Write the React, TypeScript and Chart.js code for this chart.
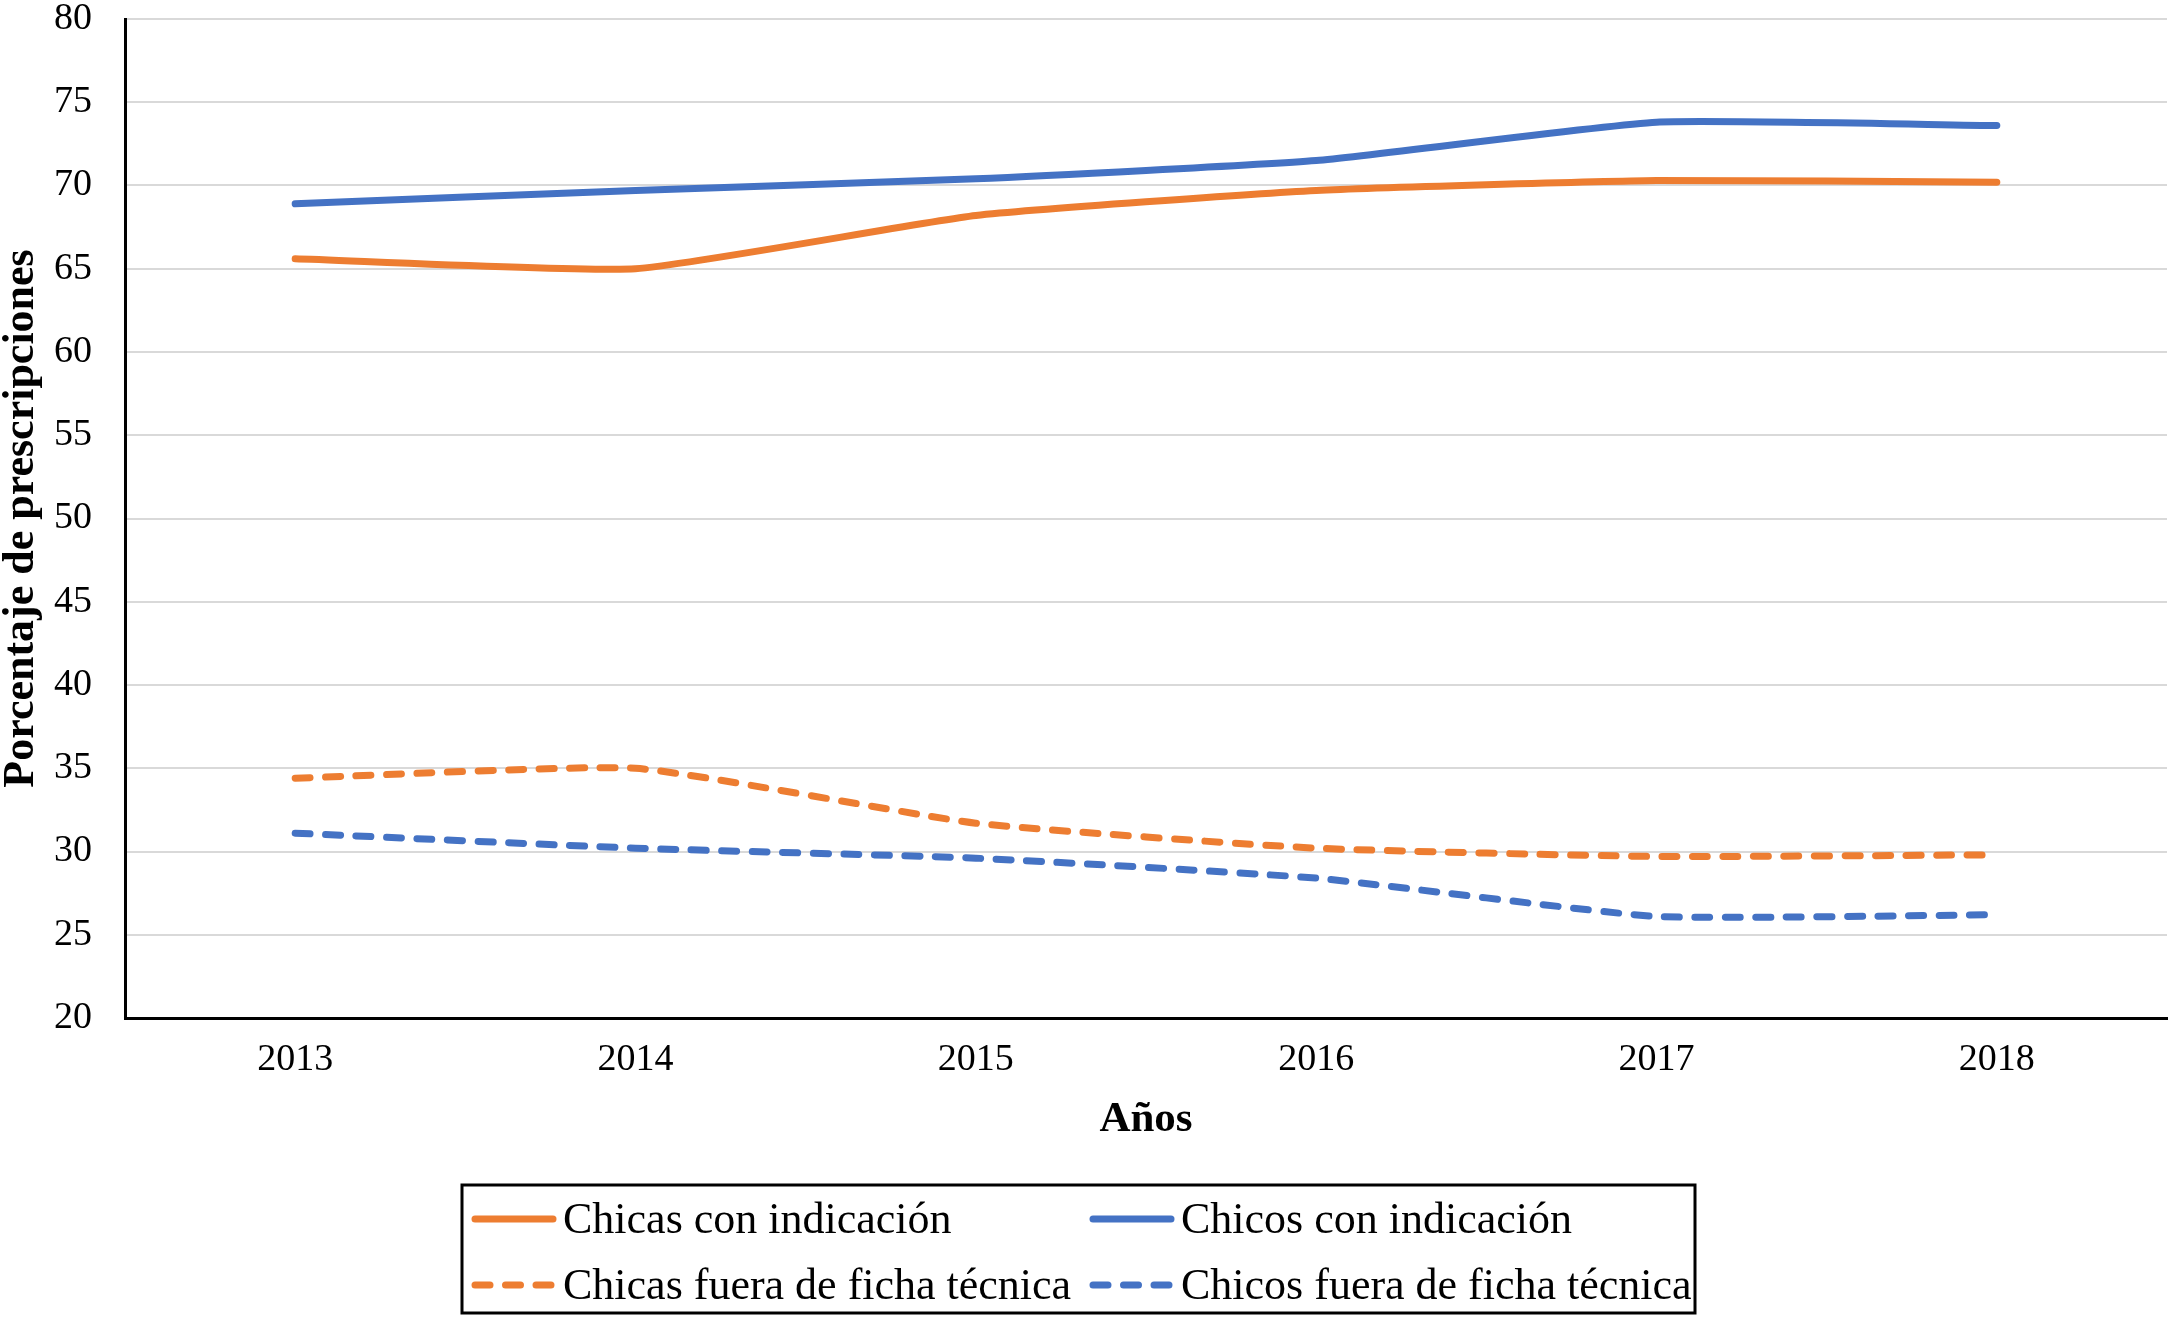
import React, { useEffect, useRef } from "react";
import { Chart, registerables } from "chart.js";

Chart.register(...registerables);

const years = ["2013", "2014", "2015", "2016", "2017", "2018"];
const chicasIndicacion = [65.6, 65.0, 68.2, 69.7, 70.3, 70.2];
const chicosIndicacion = [68.9, 69.7, 70.4, 71.5, 73.8, 73.6];
const chicasFuera = [34.4, 35.0, 31.7, 30.2, 29.7, 29.8];
const chicosFuera = [31.1, 30.2, 29.6, 28.4, 26.1, 26.2];
const seriesLabels = [
  "Chicas con indicación",
  "Chicos con indicación",
  "Chicas fuera de ficha técnica",
  "Chicos fuera de ficha técnica",
];
const yTitle = "Porcentaje de prescripciones";
const xTitle = "Años";

const ORANGE = "#ED7D31";
const BLUE = "#4472C4";
const SERIF = '"Liberation Serif", "Times New Roman", serif';
const DASH = [15, 15.5];

const boxedLegend = {
  id: "boxedLegend",
  afterDraw(chart: any) {
    const ctx = chart.ctx as CanvasRenderingContext2D;
    ctx.save();
    ctx.strokeStyle = "#000";
    ctx.lineWidth = 3;
    ctx.setLineDash([]);
    ctx.strokeRect(462, 1185, 1233, 128);
    const cols = [472, 1090];
    const rows = [1219, 1285];
    chart.data.datasets.forEach((ds: any, i: number) => {
      const cx = cols[i % 2];
      const cy = rows[Math.floor(i / 2)];
      ctx.beginPath();
      ctx.strokeStyle = ds.borderColor;
      ctx.lineWidth = 7;
      ctx.lineCap = "round";
      ctx.setLineDash(ds.borderDash || []);
      ctx.moveTo(cx + 3, cy);
      ctx.lineTo(cx + 81, cy);
      ctx.stroke();
      ctx.setLineDash([]);
      ctx.fillStyle = "#000";
      ctx.font = `44px ${SERIF}`;
      ctx.textBaseline = "middle";
      ctx.textAlign = "left";
      ctx.fillText(ds.label, cx + 91, cy + 2);
    });
    ctx.restore();
  },
};

export default function App() {
  const ref = useRef<HTMLCanvasElement | null>(null);

  useEffect(() => {
    document.body.style.margin = "0";
    if (!ref.current) return;
    const common = {
      borderWidth: 7,
      pointRadius: 0,
      pointHoverRadius: 0,
      tension: 0.15,
      borderCapStyle: "round" as const,
      borderJoinStyle: "round" as const,
      fill: false,
    };
    const chart = new Chart(ref.current, {
      type: "line",
      data: {
        labels: years,
        datasets: [
          { ...common, label: seriesLabels[0], data: chicasIndicacion, borderColor: ORANGE, backgroundColor: ORANGE },
          { ...common, label: seriesLabels[1], data: chicosIndicacion, borderColor: BLUE, backgroundColor: BLUE },
          { ...common, label: seriesLabels[2], data: chicasFuera, borderColor: ORANGE, backgroundColor: ORANGE, borderDash: DASH },
          { ...common, label: seriesLabels[3], data: chicosFuera, borderColor: BLUE, backgroundColor: BLUE, borderDash: DASH },
        ],
      },
      options: {
        animation: false,
        responsive: false,
        devicePixelRatio: 1,
        layout: { padding: { top: 19, right: 8, bottom: 0, left: 0 } },
        plugins: {
          legend: { display: false },
          tooltip: { enabled: false },
        },
        scales: {
          x: {
            offset: true,
            grid: { display: false, drawTicks: false },
            border: { display: true, color: "#000", width: 3 },
            ticks: {
              color: "#000",
              padding: 23,
              font: { family: SERIF, size: 38, lineHeight: 1 },
            },
            title: {
              display: true,
              text: xTitle,
              color: "#000",
              font: { family: SERIF, size: 43, weight: "bold", lineHeight: 1.2 },
              padding: { top: 0, bottom: 177 },
            },
            afterFit(scale: any) {
              scale.height = 305;
            },
          },
          y: {
            min: 20,
            max: 80,
            ticks: {
              stepSize: 5,
              color: "#000",
              padding: 33,
              font: { family: SERIF, size: 38, lineHeight: 1 },
            },
            grid: { color: "#d9d9d9", lineWidth: 2, drawTicks: false },
            border: { display: true, color: "#000", width: 3 },
            title: {
              display: true,
              text: yTitle,
              color: "#000",
              font: { family: SERIF, size: 44, weight: "bold", lineHeight: 1 },
              padding: { top: 0, bottom: 0 },
            },
            afterFit(scale: any) {
              scale.width = 125;
              scale.paddingTop = 0;
              scale.paddingBottom = 0;
            },
          },
        },
      },
      plugins: [boxedLegend],
    });
    return () => chart.destroy();
  }, []);

  return (
    <div style={{ width: 2175, height: 1323, background: "#fff" }}>
      <canvas ref={ref} width={2175} height={1323} style={{ display: "block", width: 2175, height: 1323 }} />
    </div>
  );
}
